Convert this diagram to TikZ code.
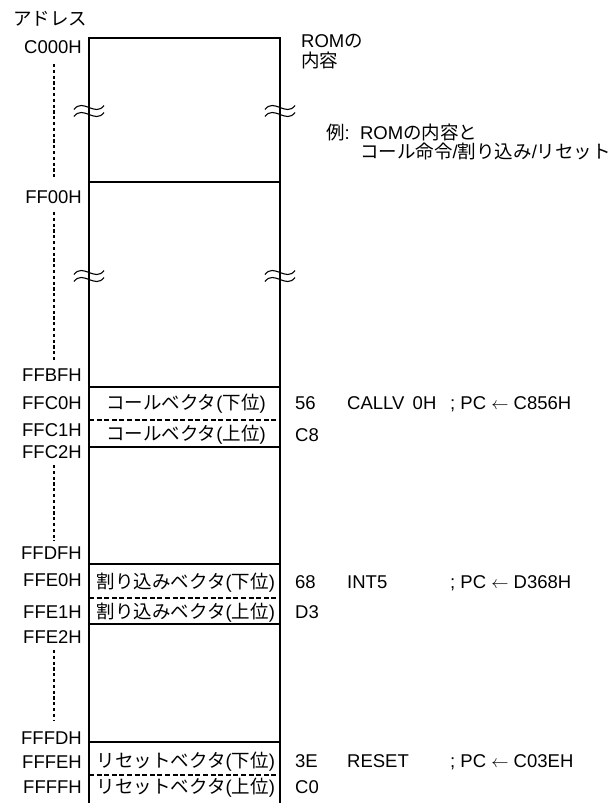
\documentclass[tikz,border=0pt]{standalone}
\usepackage{fontspec}
\setmainfont{Liberation Sans}
\newfontfamily\jpfont{Noto Sans CJK JP}
\newcommand{\jp}[1]{{\jpfont #1}}
\usepackage{tikz}

\begin{document}
\begin{tikzpicture}[x=1pt,y=-1pt,
    font=\fontsize{18.5}{22}\selectfont,
    mapline/.style={line width=1.5pt},
    halfline/.style={line width=1.3pt,dash pattern=on 5pt off 2.6pt},
    dotline/.style={line width=1.3pt,dash pattern=on 3.2pt off 2.6pt},
    label/.style={inner sep=0pt,text height=13pt,text depth=0pt},
    addr/.style={label,anchor=east},
    note/.style={label,anchor=west}]
    \useasboundingbox (0,0) rectangle (610,803);

    % memory map
    \draw[mapline] (89,803) -- (89,38) -- (280,38) -- (280,803);
    \foreach \y in {182,387,447,564,624,742}
      \draw[mapline] (89,\y) -- (280,\y);
    \foreach \y in {420,598,775}
      \draw[halfline] (89,\y) -- (280,\y);

    % omitted parts
    \foreach \x in {89,280}
      \foreach \y in {111,276}
        \foreach \d in {-3.5,3.5}
          \draw[line width=1.1pt] (\x-15,\y+\d+2) .. controls (\x-6,\y+\d-10) and (\x+6,\y+\d+10) .. (\x+15,\y+\d-2);

    \foreach \a/\b in {64/178,212/362,465/541,650/721}
      \draw[dotline] (54,\a) -- (54,\b);

    % addresses
    \node[note] (head) at (13,19) {\jp{アドレス}};
    \foreach \y/\t [count=\i] in {47/C000H,197/FF00H,375/FFBFH,403/FFC0H,430/FFC1H,452/FFC2H,
        553/FFDFH,580/FFE0H,612/FFE1H,637/FFE2H,738/FFFDH,762/FFFEH,787/FFFFH}
      \node[addr] (adr\i) at (82,\y) {\t};

    % vector cells
    \node[label] (callL) at (186,403) {\jp{コールベクタ}(\jp{下位})};
    \node[label] (callH) at (186,434) {\jp{コールベクタ}(\jp{上位})};
    \node[label] (intL) at (186,582) {\jp{割り込みベクタ}(\jp{下位})};
    \node[label] (intH) at (186,612) {\jp{割り込みベクタ}(\jp{上位})};
    \node[label] (rstL) at (186,761) {\jp{リセットベクタ}(\jp{下位})};
    \node[label] (rstH) at (186,787) {\jp{リセットベクタ}(\jp{上位})};

    % contents
    \node[note] (rom) at (301,41) {ROM\jp{の}};
    \node[note] (rom2) at (301,61) {\jp{内容}};
    \node[note] (ex) at (326,133) {\jp{例}:\ \ ROM\jp{の内容と}};
    \node[note] (ex2) at (360,152) {\jp{コール命令}/\jp{割り込み}/\jp{リセット}};

    \node[note] (v56) at (295,403) {56};
    \node[note] (vC8) at (295,435) {C8};
    \node[note] (v68) at (295,582) {68};
    \node[note] (vD3) at (295,612) {D3};
    \node[note] (v3E) at (295,761) {3E};
    \node[note] (vC0) at (295,787) {C0};

    \node[note] (callv) at (347,403) {CALLV\hspace{0.45em}0H};
    \node[note] (int5) at (347,582) {INT5};
    \node[note] (reset) at (347,761) {RESET};
    \node[note] (pc1) at (450,403) {;\ PC $\leftarrow$ C856H};
    \node[note] (pc2) at (450,582) {;\ PC $\leftarrow$ D368H};
    \node[note] (pc3) at (450,761) {;\ PC $\leftarrow$ C03EH};
  \end{tikzpicture}
\end{document}
